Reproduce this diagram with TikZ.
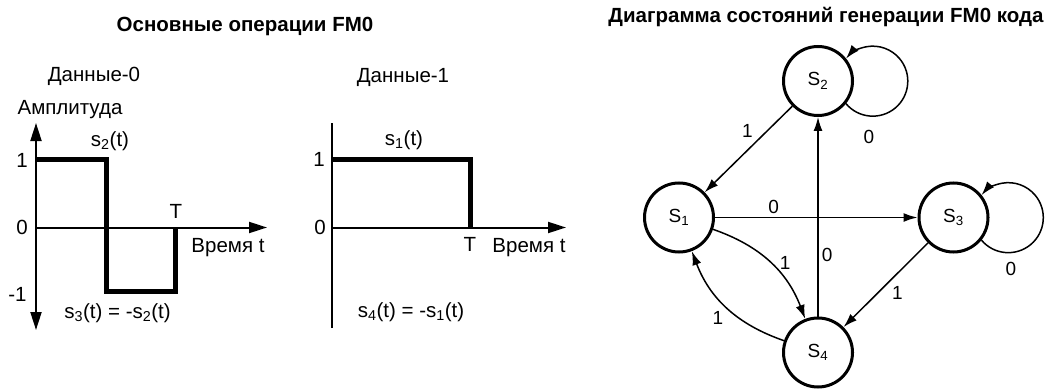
\documentclass[tikz,border=0pt]{standalone}
\usepackage{fontspec}
\setmainfont{Liberation Sans}
\usetikzlibrary{arrows.meta,positioning,calc}

\begin{document}
\begin{tikzpicture}[x=1pt, y=1pt,
    axis/.style={line width=2pt},
    axistip/.style={-{Triangle[length=18pt, width=11pt]}},
    signal/.style={line width=5pt, line join=miter},
    state/.style={circle, draw, line width=3pt, minimum size=69pt, inner sep=0pt,
                  font=\fontsize{19}{22}\selectfont},
    edge/.style={line width=1.5pt, -{Latex[length=14pt, width=9pt]}},
    lbl/.style={font=\fontsize{19}{22}\selectfont, inner sep=3pt},
    txt/.style={font=\fontsize{20.5}{24}\selectfont, inner sep=0pt},
    ttl/.style={font=\fontsize{20.5}{24}\selectfont\bfseries, inner sep=0pt}]
    \useasboundingbox (0,0) rectangle (1060,389);

    % Basic operations (left part)
    \node[ttl] (title1) at (245,363) {Основные операции FM0};

    % Data-0
    \node[txt] (data0) at (94,313) {Данные-0};
    \node[txt] (ampl) at (70,279) {Амплитуда};
    \draw[axis, {Triangle[length=18pt, width=11pt]}-{Triangle[length=18pt, width=11pt]}] (36,59) -- (36,266);
    \draw[axis, axistip] (36,161.5) -- (267,161.5);
    \draw[signal] (36,229.5) -- (106,229.5) -- (106,97.5) -- (175,97.5) -- (175,161.5);
    \node[txt] (one0) at (22,228.5) {1};
    \node[txt] (zero0) at (22,161.5) {0};
    \node[txt] (mone0) at (17.5,95) {-1};
    \node[txt] (s2t) at (110,248) {s\textsubscript{2}(t)};
    \node[txt] (T0) at (176,177.5) {T};
    \node[txt] (time0) at (228,141.5) {Время t};
    \node[txt] (s3t) at (117.5,76) {s\textsubscript{3}(t) = -s\textsubscript{2}(t)};

    % Data-1
    \node[txt] (data1) at (403,312) {Данные-1};
    \draw[axis] (332,61) -- (332,266);
    \draw[axis, axistip] (332,161.5) -- (566,161.5);
    \draw[signal] (332,229.5) -- (470,229.5) -- (470,161.5);
    \node[txt] (one1) at (319,229.5) {1};
    \node[txt] (zero1) at (320,161.5) {0};
    \node[txt] (s1t) at (404,249) {s\textsubscript{1}(t)};
    \node[txt] (T1) at (470,144.5) {T};
    \node[txt] (time1) at (529,141.5) {Время t};
    \node[txt] (s4t) at (411,77) {s\textsubscript{4}(t) = -s\textsubscript{1}(t)};

    % State diagram (right part)
    \node[ttl] (title2) at (826,372) {Диаграмма состояний генерации FM0 кода};
    \node[state] (s1) at (679,171.5) {S\textsubscript{1}};
    \node[state] (s2) at (818,308) {S\textsubscript{2}};
    \node[state] (s3) at (953.5,171.5) {S\textsubscript{3}};
    \node[state] (s4) at (818,36.5) {S\textsubscript{4}};

    \draw[edge] (s2) -- node[lbl, pos=0.41, above left] {1} (s1);
    \draw[edge] (s1) -- node[lbl, pos=0.29, above] {0} (s3);
    \draw[edge] (s4) -- node[lbl, pos=0.31, right] {0} (s2);
    \draw[edge] (s3) -- node[lbl, pos=0.47, below right] {1} (s4);
    \draw[edge] (s1) to[bend left=25] node[lbl, pos=0.5, right=6pt] {1} (s4);
    \draw[edge] (s4) to[bend left=25] node[lbl, pos=0.5, below left] {1} (s1);

    % self loops
    \draw[edge] (s2.-39) arc[start angle=-140, end angle=140, radius=35pt];
    \node[lbl] (loop2) at (869,252.5) {0};
    \draw[edge] (s3.-39) arc[start angle=-140, end angle=140, radius=35pt];
    \node[lbl] (loop3) at (1011,120.5) {0};
\end{tikzpicture}
\end{document}
